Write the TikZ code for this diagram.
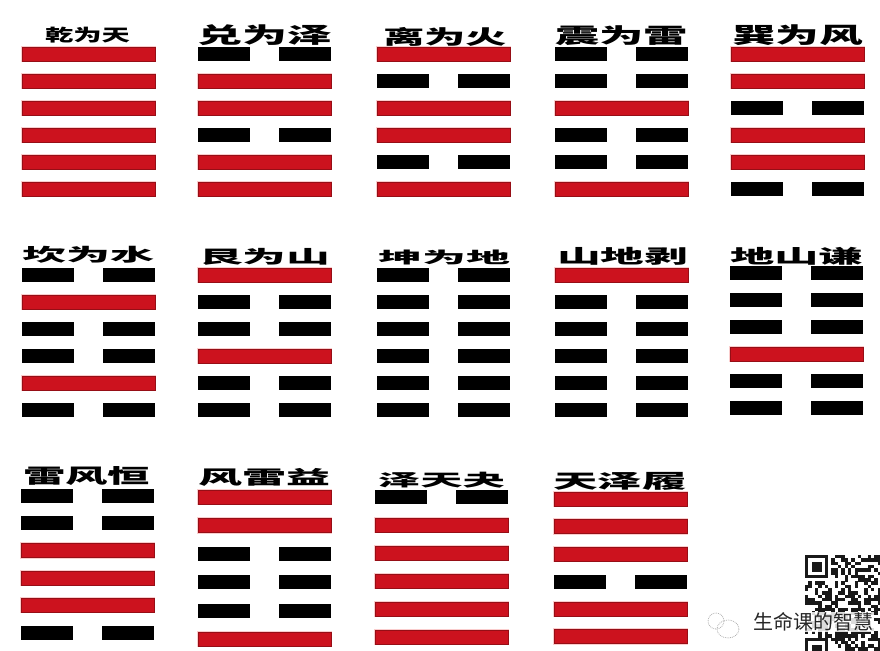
\documentclass[tikz,border=0pt]{standalone}
\usepackage{fontspec}
\usepackage{graphicx}
\newfontfamily\cjk{Noto Sans CJK SC}
\definecolor{hexred}{RGB}{204,18,30}
\definecolor{hexdark}{RGB}{150,14,22}
\definecolor{hexpink}{RGB}{250,205,205}
\definecolor{qrgray}{RGB}{25,25,25}
\tikzset{
  yang/.style={fill=hexred, draw=hexdark, line width=0.6pt},
  yin/.style={fill=black},
  halo/.style={draw=hexpink, line width=2.4pt},
  hextitle/.style={inner sep=0pt, anchor=center, text=black},
  qrmod/.style={fill=qrgray},
}
% #1 left x, #2 top y, #3 step, #4 pattern top->bottom (1 = yang)
\newcommand\drawhex[4]{%
  \foreach \bit [count=\i from 0] in {#4} {%
    \pgfmathsetmacro\yt{#2+\i*#3}%
    \ifnum\bit=1
      \draw[halo] (#1,\yt) rectangle ++(133,14);
      \path[yang] (#1,\yt) rectangle ++(133,14);
    \else
      \path[yin] (#1,\yt) rectangle ++(52,14);
      \path[yin] (#1+81,\yt) rectangle ++(52,14);
    \fi
  }%
}
\newcommand\hextxt[3]{\resizebox*{#1pt}{#2pt}{\cjk\bfseries #3}}
\begin{document}
\begin{tikzpicture}[x=1pt,y=-1pt]
\clip (0,0) rectangle (880,650);
\fill[white] (0,0) rectangle (880,650);

% ---- row 1
\drawhex{22}{47}{27}{1,1,1,1,1,1}
\drawhex{198}{47}{27}{0,1,1,0,1,1}
\drawhex{377}{47}{27}{1,0,1,1,0,1}
\drawhex{555}{47}{27}{0,0,1,0,0,1}
\drawhex{731}{47}{27}{1,1,0,1,1,0}
\node[hextitle] (t1) at (87.5,35) {\hextxt{85}{16}{乾为天}};
\node[hextitle] (t2) at (264.5,35) {\hextxt{135}{21}{兑为泽}};
\node[hextitle] (t3) at (445,36.5) {\hextxt{124}{19}{离为火}};
\node[hextitle] (t4) at (621.5,35.5) {\hextxt{133}{20}{震为雷}};
\node[hextitle] (t5) at (797.5,35) {\hextxt{131}{21}{巽为风}};

% ---- row 2
\drawhex{22}{268}{27}{0,1,0,0,1,0}
\drawhex{198}{268}{27}{1,0,0,1,0,0}
\drawhex{377}{268}{27}{0,0,0,0,0,0}
\drawhex{555}{268}{27}{1,0,0,0,0,0}
\drawhex{730}{266}{27}{0,0,0,1,0,0}
\node[hextitle] (t6) at (89,254.5) {\hextxt{132}{17}{坎为水}};
\node[hextitle] (t7) at (264.5,256.5) {\hextxt{131}{17}{艮为山}};
\node[hextitle] (t8) at (444,257.5) {\hextxt{132}{15}{坤为地}};
\node[hextitle] (t9) at (622.5,256) {\hextxt{131}{18}{山地剥}};
\node[hextitle] (t10) at (796.5,256) {\hextxt{133}{18}{地山谦}};

% ---- row 3
\drawhex{21}{489}{27.3}{0,0,1,1,1,0}
\drawhex{198}{490}{28.4}{1,1,0,0,0,1}
\drawhex{375}{490}{28}{0,1,1,1,1,1}
\drawhex{554}{492}{27.5}{1,1,1,0,1,1}
\node[hextitle] (t11) at (86.5,476.5) {\hextxt{127}{19}{雷风恒}};
\node[hextitle] (t12) at (264,477) {\hextxt{132}{18}{风雷益}};
\node[hextitle] (t13) at (441.5,480) {\hextxt{127}{16}{泽天夬}};
\node[hextitle] (t14) at (620,481) {\hextxt{134}{18}{天泽履}};

% ---- QR code (pseudo pattern)
\pgfmathsetseed{11}
\foreach \r in {0,...,29} {
  \foreach \c in {0,...,22} {
    \pgfmathrandominteger{\q}{0}{1}
    \pgfmathtruncatemacro\infind{((\c<8) && (\r<8)) || ((\c<8) && (\r>24)) ? 1 : 0}
    \ifnum\infind=0
      \ifnum\q=1
        \path[qrmod] (805+\c*3.3,555+\r*3.3) rectangle ++(3.4,3.4);
      \fi
    \fi
  }
}
% finder patterns
\foreach \fy in {555,638} {
  \path[qrmod] (805,\fy) rectangle ++(23.1,23.1);
  \fill[white] (808.3,\fy+3.3) rectangle ++(16.5,16.5);
  \path[qrmod] (811.6,\fy+6.6) rectangle ++(9.9,9.9);
}

% ---- watermark
\draw[gray!60, densely dotted, line width=0.8pt] (716,621) circle (8);
\draw[gray!60, densely dotted, line width=0.8pt] (728,629) ellipse (11 and 9);
\node[inner sep=1pt, anchor=west, fill=white, fill opacity=0.85, text opacity=1,
      text=black!85, font=\cjk\fontsize{20}{20}\selectfont] (wm) at (752,622) {生命课的智慧};
\end{tikzpicture}
\end{document}
